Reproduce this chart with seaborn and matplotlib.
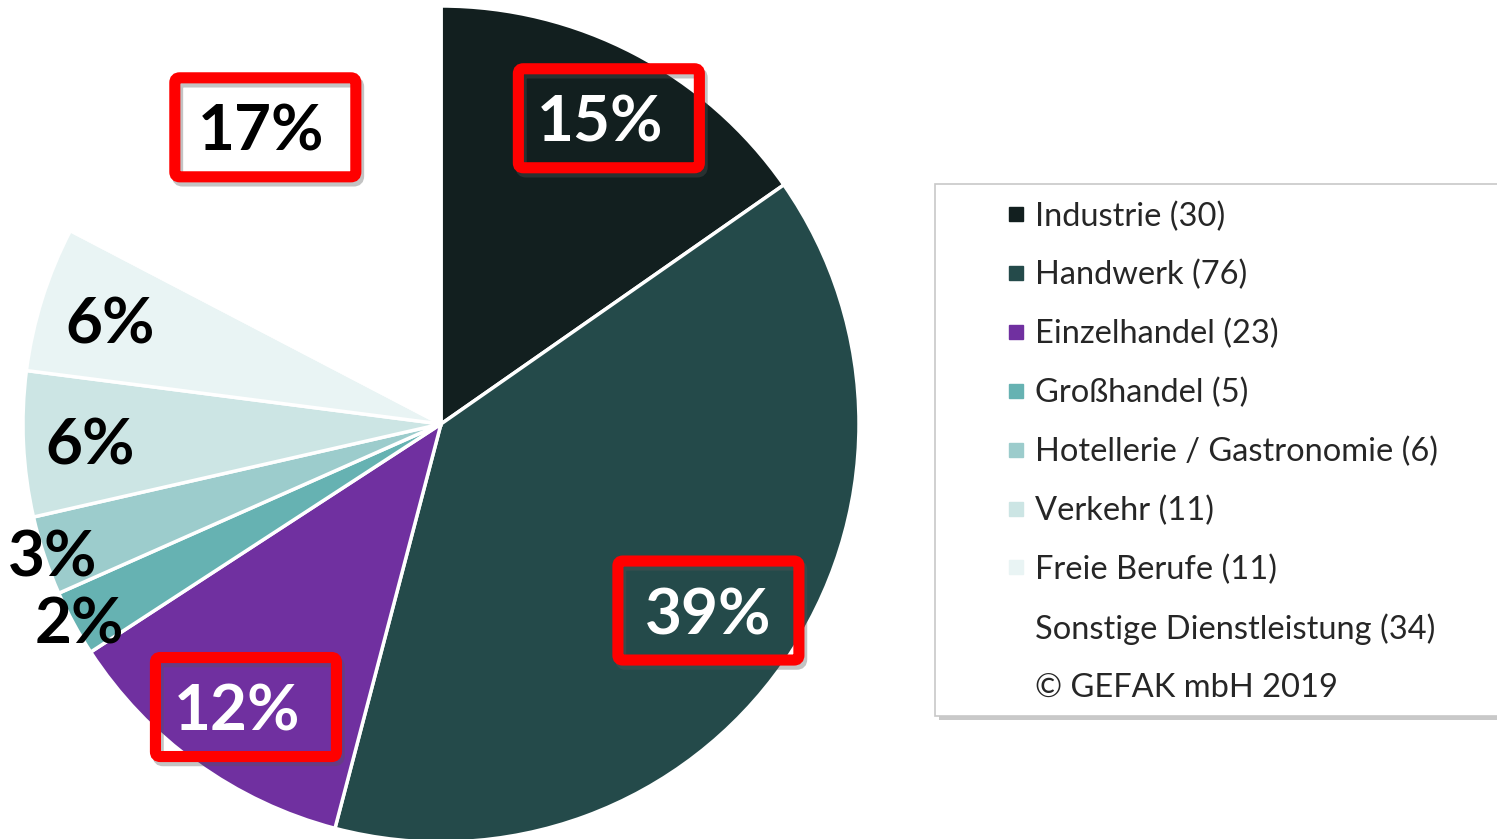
import matplotlib.pyplot as plt
import matplotlib.patheffects as pe
from matplotlib.lines import Line2D
from matplotlib.patches import FancyBboxPatch
import numpy as np
import seaborn as sns

sectors = ['Industrie', 'Handwerk', 'Einzelhandel', 'Großhandel',
           'Hotellerie / Gastronomie', 'Verkehr', 'Freie Berufe',
           'Sonstige Dienstleistung']
counts = [30, 76, 23, 5, 6, 11, 11, 34]
pct_labels = ['15%', '39%', '12%', '2%', '3%', '6%', '6%', '17%']
colors = ['#121f1f', '#244a4a', '#7030a0', '#66b2b2', '#9ccccc',
          '#cce5e4', '#e9f4f4', '#ffffff']
boxed = [True, True, True, False, False, False, False, True]
copyright_note = '© GEFAK mbH 2019'

sns.set_theme(style='white')
plt.rcParams['font.family'] = ['Lato', 'DejaVu Sans']

W, H = 1497, 839
fig = plt.figure(figsize=(W / 100, H / 100), dpi=100)
cx, cy, R = 441, 424, 418
ax = fig.add_axes([(cx - R) / W, (H - cy - R) / H, 2 * R / W, 2 * R / H])

wedges, _ = ax.pie(counts, colors=colors, startangle=90, counterclock=False,
                   wedgeprops=dict(edgecolor='white', linewidth=2.5))
ax.set_xlim(-1, 1)
ax.set_ylim(-1, 1)
ax.axis('off')

# label distance per slice (fraction of radius) and box shift
label_r = [0.825, 0.78, 0.835, 0.985, 0.98, 0.84, 0.83, 0.83]
box_dx = [0.02, 0.0, 0.022, 0, 0, 0, 0, 0.01]
box_w, box_h = 181 / R, 99 / R

for w, lab, box, col, r, dx in zip(wedges, pct_labels, boxed, colors, label_r, box_dx):
    mid = np.deg2rad((w.theta1 + w.theta2) / 2)
    x, y = r * np.cos(mid), r * np.sin(mid)
    dark = col in ('#121f1f', '#244a4a', '#7030a0')
    ax.text(x, y, lab, ha='center', va='center_baseline',
            fontsize=46, fontweight='bold',
            color='white' if dark else 'black', zorder=5)
    if box:
        rect = FancyBboxPatch((x - box_w / 2 + dx, y - box_h / 2), box_w, box_h,
                              boxstyle='round,pad=0,rounding_size=0.012',
                              facecolor='none', edgecolor='#ff0000',
                              linewidth=8, zorder=6,
                              path_effects=[pe.Stroke(offset=(2, -3), foreground='#555555',
                                                      alpha=0.35, linewidth=8),
                                            pe.Normal()])
        ax.add_patch(rect)

# legend frame
frame = FancyBboxPatch((935 / W, (H - 716) / H), 600 / W, 532 / H,
                       boxstyle='square,pad=0', transform=fig.transFigure,
                       facecolor='white', edgecolor='#c8c8c8', linewidth=1.2,
                       path_effects=[pe.SimplePatchShadow(offset=(3, -3), alpha=0.3),
                                     pe.Normal()])
fig.patches.append(frame)

handles = [Line2D([], [], marker='s', linestyle='none', markersize=10,
                  markerfacecolor=c, markeredgecolor=c) for c in colors]
handles.append(Line2D([], [], linestyle='none'))
labels = [f'{s} ({n})' for s, n in zip(sectors, counts)] + [copyright_note]
fig.legend(handles, labels, loc='upper left',
           bbox_to_anchor=(983 / W, (H - 185) / H), frameon=False,
           fontsize=23.5, labelspacing=0.87, handletextpad=0.1,
           handlelength=1.0, borderpad=0)

fig.savefig('out.png', dpi=100)
